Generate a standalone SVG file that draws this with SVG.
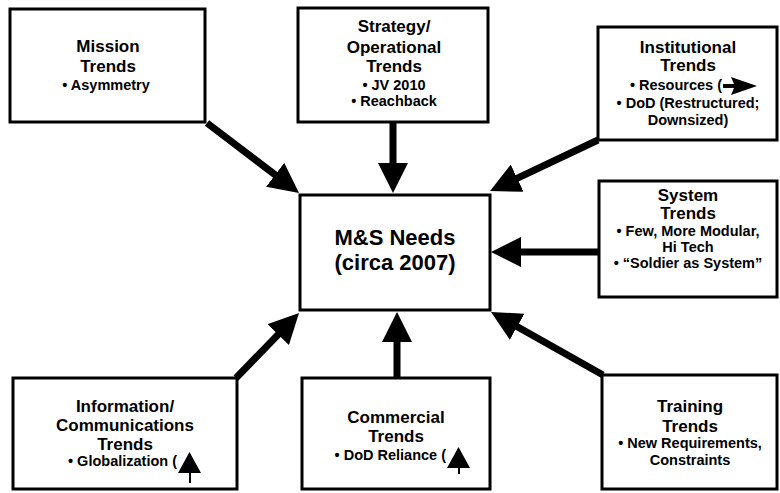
<svg xmlns="http://www.w3.org/2000/svg" width="780" height="493" viewBox="0 0 780 493">
  <style>
    .box { fill: #fff; stroke: #000; stroke-width: 3; }
    .t { font-family: "Liberation Sans", Arial, Helvetica, sans-serif; font-weight: bold; fill: #000; text-anchor: middle; }
    .h { font-size: 17px; }
    .b { font-size: 14.5px; }
    .c { font-size: 22px; }
    .arrow { stroke: #000; stroke-width: 7; fill: none; marker-end: url(#head); }
    .glyph { fill: #000; stroke: none; }
  </style>
  <defs>
    <marker id="head" markerUnits="userSpaceOnUse" markerWidth="30" markerHeight="30" viewBox="0 0 30 30" refX="15" refY="15" orient="auto">
      <path d="M0,0 L30,15 L0,30 z" fill="#000"/>
    </marker>
  </defs>
  <rect width="780" height="493" fill="#fff"/>

  <!-- connectors: every trend box points into the central needs box -->
  <g id="connectors">
    <line class="arrow" x1="207" y1="123" x2="287.1" y2="183.9"/>
    <line class="arrow" x1="393" y1="122" x2="393" y2="178"/>
    <line class="arrow" x1="598" y1="140" x2="503.6" y2="184.6"/>
    <line class="arrow" x1="598" y1="252" x2="506" y2="252"/>
    <line class="arrow" x1="236" y1="378" x2="288.6" y2="323.8"/>
    <line class="arrow" x1="397" y1="377" x2="397" y2="327"/>
    <line class="arrow" x1="603" y1="375" x2="504.1" y2="319.4"/>
  </g>

  <g id="mission">
    <rect class="box" x="10" y="9" width="195" height="113"/>
    <text class="t h" x="108" y="52">Mission</text>
    <text class="t h" x="108" y="72">Trends</text>
    <text class="t b" x="106" y="90">• Asymmetry</text>
  </g>

  <g id="strategy">
    <rect class="box" x="298" y="8" width="190" height="114"/>
    <text class="t h" x="394" y="32">Strategy/</text>
    <text class="t h" x="394" y="53">Operational</text>
    <text class="t h" x="394" y="72">Trends</text>
    <text class="t b" x="394" y="90">• JV 2010</text>
    <text class="t b" x="394" y="106">• Reachback</text>
  </g>

  <g id="institutional">
    <rect class="box" x="598" y="27" width="179" height="113"/>
    <text class="t h" x="688" y="53">Institutional</text>
    <text class="t h" x="688" y="71">Trends</text>
    <text class="t b" x="722" y="90" style="text-anchor:end">• Resources (</text>
    <path class="glyph" d="M723,84 L734,84 L731,77 L757,86 L731,95 L734,88 L723,88 z"/>
    <text class="t b" x="688" y="108">• DoD (Restructured;</text>
    <text class="t b" x="688" y="125">Downsized)</text>
  </g>

  <g id="system">
    <rect class="box" x="599" y="181" width="178" height="116"/>
    <text class="t h" x="688" y="201">System</text>
    <text class="t h" x="688" y="219">Trends</text>
    <text class="t b" x="688" y="236">• Few, More Modular,</text>
    <text class="t b" x="688" y="252">Hi Tech</text>
    <text class="t b" x="688" y="268">• “Soldier as System”</text>
  </g>

  <g id="needs">
    <rect class="box" x="300" y="195" width="190" height="115"/>
    <text class="t c" x="395" y="245">M&amp;S Needs</text>
    <text class="t c" x="395" y="270">(circa 2007)</text>
  </g>

  <g id="information">
    <rect class="box" x="13" y="378" width="224" height="111"/>
    <text class="t h" x="125" y="412">Information/</text>
    <text class="t h" x="125" y="431">Communications</text>
    <text class="t h" x="125" y="450">Trends</text>
    <text class="t b" x="177" y="466" style="text-anchor:end">• Globalization (</text>
    <path class="glyph" d="M189.5,452 L201,473 L191,473 L191,483 L189,483 L189,473 L178,473 z"/>
  </g>

  <g id="commercial">
    <rect class="box" x="302" y="378" width="188" height="111"/>
    <text class="t h" x="396" y="423">Commercial</text>
    <text class="t h" x="396" y="442">Trends</text>
    <text class="t b" x="446" y="460" style="text-anchor:end">• DoD Reliance (</text>
    <path class="glyph" d="M458.5,447 L470,468 L460,468 L460,474 L458,474 L458,468 L447,468 z"/>
  </g>

  <g id="training">
    <rect class="box" x="602" y="375" width="175" height="114"/>
    <text class="t h" x="690" y="412">Training</text>
    <text class="t h" x="690" y="432">Trends</text>
    <text class="t b" x="690" y="448">• New Requirements,</text>
    <text class="t b" x="690" y="465">Constraints</text>
  </g>
</svg>
